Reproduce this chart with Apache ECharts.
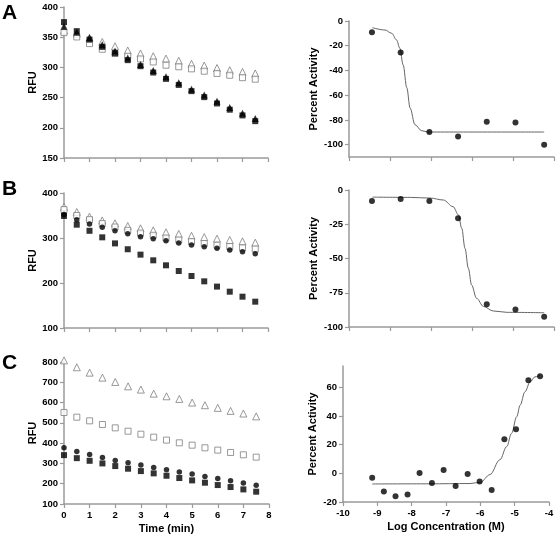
<!DOCTYPE html>
<html><head><meta charset="utf-8">
<script src="https://cdn.jsdelivr.net/npm/echarts@6/dist/echarts.min.js"></script>
<style>html,body{margin:0;padding:0;background:#fff}#c{width:558px;height:546px}</style>
</head><body><div id="c"></div>
<script>
// ---------- data ----------
const timeMin = [0,0.5,1,1.5,2,2.5,3,3.5,4,4.5,5,5.5,6,6.5,7,7.5];

const aFilledSquare   = [375,360,346,334,323.5,312,302,291.5,281,271,260.7,250.8,240.3,230,220.5,211];
const aFilledTriangle = [368,358,349,337.5,327,315.5,305,295,284.5,274.5,264,254.5,244,233.5,224,215.5];
const aOpenSquare     = [357.6,350.4,339.4,330,323,318.5,314,309,303.6,301,297.6,293.7,290,287,283,280.5];
const aOpenTriangle   = [361,356,349,342,335,328,323,318.5,314.6,311,306,303,299,295.4,292.6,290];

const bFilledSquare   = [349,329.6,316,301.5,288,275,263,250.4,239.3,226.7,215.6,203.7,192,180.7,169.6,158.5];
const bFilledCircle   = [352,340.7,331,323.7,316,309.6,303,298.5,294,289,284.4,280.7,277,273.3,269.6,265];
const bOpenSquare     = [363,350,340.7,332,324.4,317,311,306,300,295.6,292,287.6,284,281,278,275.5];
const bOpenTriangle   = [369,357.8,347.4,339,332.6,326.7,321.5,317,312.6,309,305,302,298.5,295.6,292.6,289.6];

const cOpenTriangle   = [808,774,747.5,723,701.6,680,664,644,631,618,600,587,574,559,546,532];
const cOpenSquare     = [551,528,510,492,475.4,459,444,429.5,415,401.6,390,377,365.6,354,342.6,331];
const cFilledCircle   = [377,359,344,329.5,315,303,292,280,269,257.4,247.5,236,226,215,203,192];
const cFilledSquare   = [341,326,313,300,287,274,262.3,251,239.3,228,216.4,205,193.4,183.6,172,160.7];

const logConcAB = [-9.44,-8.74,-8.04,-7.34,-6.64,-5.94,-5.24];
const aActivity = [-9,-25.5,-89.8,-93.5,-81.5,-82,-100];
const bActivity = [-8,-6.5,-8,-20.7,-83.4,-87.3,-92.5];

const logConcC  = [-9.15,-8.81,-8.47,-8.12,-7.77,-7.41,-7.07,-6.72,-6.37,-6.02,-5.67,-5.30,-4.96,-4.60,-4.26];
const cActivity = [-3.0,-12.7,-16,-14.8,0.2,-6.7,2.3,-8.8,-0.5,-5.6,-11.6,23.9,30.8,65,67.8];

// fitted curves
const aFitX = [-9.43,-9.12,-8.96,-8.84,-8.76,-8.68,-8.59,-8.51,-8.39,-8.23,-8.07,-5.24];
const aFitY = [-5.4,-7.3,-9.9,-15.3,-22,-35.5,-54,-70.4,-83.9,-88.7,-89.8,-89.8];
const bFitX = [-9.43,-8.5,-8.02,-7.70,-7.46,-7.33,-7.25,-7.17,-7.09,-7.01,-6.89,-6.72,-6.48,-6.15,-5.24];
const bFitY = [-5.2,-5.4,-5.9,-7.3,-12.2,-18.2,-28,-42.6,-57,-69.3,-79,-85,-88.3,-89.3,-89.6];
const cFitX = [-9.15,-7.5,-6.3,-6.0,-5.72,-5.43,-5.23,-5.09,-4.94,-4.84,-4.70,-4.55,-4.41,-4.26];
const cFitY = [-7.4,-7.3,-7.1,-6.2,-0.9,9.5,18.8,28,39.6,47.7,57,63.9,67.4,68.5];

const panelLetters = ['A','B','C'];

// ---------- styling helpers ----------
const FONT = 'Liberation Sans, Arial, sans-serif';
const AX = '#9a9a9a';
const zip = (xs, ys) => xs.map((x, i) => [x, ys[i]]);

function axisBase(gridIndex) {
  return {
    gridIndex, type: 'value',
    axisLine: { show: true, onZero: false, lineStyle: { color: AX, width: 1.5 } },
    axisTick: { show: true, inside: false, length: 4, lineStyle: { color: AX, width: 1.2 } },
    axisLabel: { color: '#000', fontFamily: FONT, fontWeight: 'bold', fontSize: 9.5, margin: 6 },
    splitLine: { show: false },
    nameTextStyle: { color: '#000', fontFamily: FONT, fontWeight: 'bold', fontSize: 11 }
  };
}

const grids = [
  { left: 64,  top: 7,   width: 204, height: 151 }, // A left
  { left: 64,  top: 193, width: 204, height: 135 }, // B left
  { left: 64,  top: 362, width: 205, height: 142 }, // C left
  { left: 349, top: 21,  width: 205, height: 136 }, // A right
  { left: 349, top: 190, width: 205, height: 137 }, // B right
  { left: 343, top: 366, width: 206, height: 136 }  // C right
];

const xAxes = [
  Object.assign(axisBase(0), { min: 0, max: 8, interval: 1 }),
  Object.assign(axisBase(1), { min: 0, max: 8, interval: 1 }),
  Object.assign(axisBase(2), { min: 0, max: 8, interval: 1, name: 'Time (min)', nameLocation: 'middle', nameGap: 19 }),
  Object.assign(axisBase(3), { min: -10, max: -5, interval: 1 }),
  Object.assign(axisBase(4), { min: -10, max: -5, interval: 1 }),
  Object.assign(axisBase(5), { min: -10, max: -4, interval: 1, name: 'Log Concentration (M)', nameLocation: 'middle', nameGap: 19 })
];
xAxes[0].axisLabel.show = false;
xAxes[1].axisLabel.show = false;
xAxes[3].axisLabel.show = false;
xAxes[4].axisLabel.show = false;

const yAxes = [
  Object.assign(axisBase(0), { min: 150, max: 400, interval: 50, name: 'RFU', nameLocation: 'middle', nameGap: 26 }),
  Object.assign(axisBase(1), { min: 100, max: 400, interval: 100, name: 'RFU', nameLocation: 'middle', nameGap: 26 }),
  Object.assign(axisBase(2), { min: 100, max: 800, interval: 100, name: 'RFU', nameLocation: 'middle', nameGap: 26 }),
  Object.assign(axisBase(3), { min: -110, max: 0, name: 'Percent Activity', nameLocation: 'middle', nameGap: 30 }),
  Object.assign(axisBase(4), { min: -100, max: 0, interval: 25, name: 'Percent Activity', nameLocation: 'middle', nameGap: 30 }),
  Object.assign(axisBase(5), { min: -20, max: 75, name: 'Percent Activity', nameLocation: 'middle', nameGap: 25 })
];
yAxes[3].axisLabel.customValues = [-100,-80,-60,-40,-20,0];
yAxes[3].axisTick.customValues  = [-100,-80,-60,-40,-20,0];
yAxes[5].axisLabel.customValues = [-20,0,20,40,60];
yAxes[5].axisTick.customValues  = [-20,0,20,40,60];

function pts(idx, ys, symbol, filled, size) {
  return {
    type: 'scatter', xAxisIndex: idx, yAxisIndex: idx, clip: false,
    symbol, symbolSize: size,
    itemStyle: filled ? { color: '#000' } : { color: '#fff', borderColor: '#808080', borderWidth: 1 },
    data: zip(timeMin, ys), z: filled ? 3 : 2
  };
}
function dots(idx, xs, ys) {
  return { type: 'scatter', xAxisIndex: idx, yAxisIndex: idx, clip: false, symbol: 'circle', symbolSize: 6,
    itemStyle: { color: '#000' }, data: zip(xs, ys), z: 4 };
}
function fit(idx, xs, ys) {
  return { type: 'line', xAxisIndex: idx, yAxisIndex: idx, showSymbol: false, smooth: 0.35,
    smoothMonotone: 'x', lineStyle: { color: '#666', width: 1 }, data: zip(xs, ys), z: 3 };
}

const series = [
  pts(0, aOpenTriangle, 'triangle', false, 7),
  pts(0, aOpenSquare, 'rect', false, 6),
  pts(0, aFilledTriangle, 'triangle', true, 7),
  pts(0, aFilledSquare, 'rect', true, 6),

  pts(1, bOpenTriangle, 'triangle', false, 7),
  pts(1, bOpenSquare, 'rect', false, 6),
  pts(1, bFilledCircle, 'circle', true, 5.5),
  pts(1, bFilledSquare, 'rect', true, 6),

  pts(2, cOpenTriangle, 'triangle', false, 7),
  pts(2, cOpenSquare, 'rect', false, 6),
  pts(2, cFilledCircle, 'circle', true, 5.5),
  pts(2, cFilledSquare, 'rect', true, 6),

  fit(3, aFitX, aFitY), dots(3, logConcAB, aActivity),
  fit(4, bFitX, bFitY), dots(4, logConcAB, bActivity),
  fit(5, cFitX, cFitY), dots(5, logConcC, cActivity)
];

const letterPos = [[2, 3], [2, 179], [2, 353]];
const graphic = panelLetters.map((t, i) => ({
  type: 'text', left: letterPos[i][0], top: letterPos[i][1],
  style: { text: t, font: 'bold 21px ' + FONT, fill: '#000' }
}));

const chart = echarts.init(document.getElementById('c'), null, { renderer: 'canvas' });
chart.setOption({ animation: false, backgroundColor: '#fff', grid: grids, xAxis: xAxes, yAxis: yAxes, series, graphic });
</script></body></html>
